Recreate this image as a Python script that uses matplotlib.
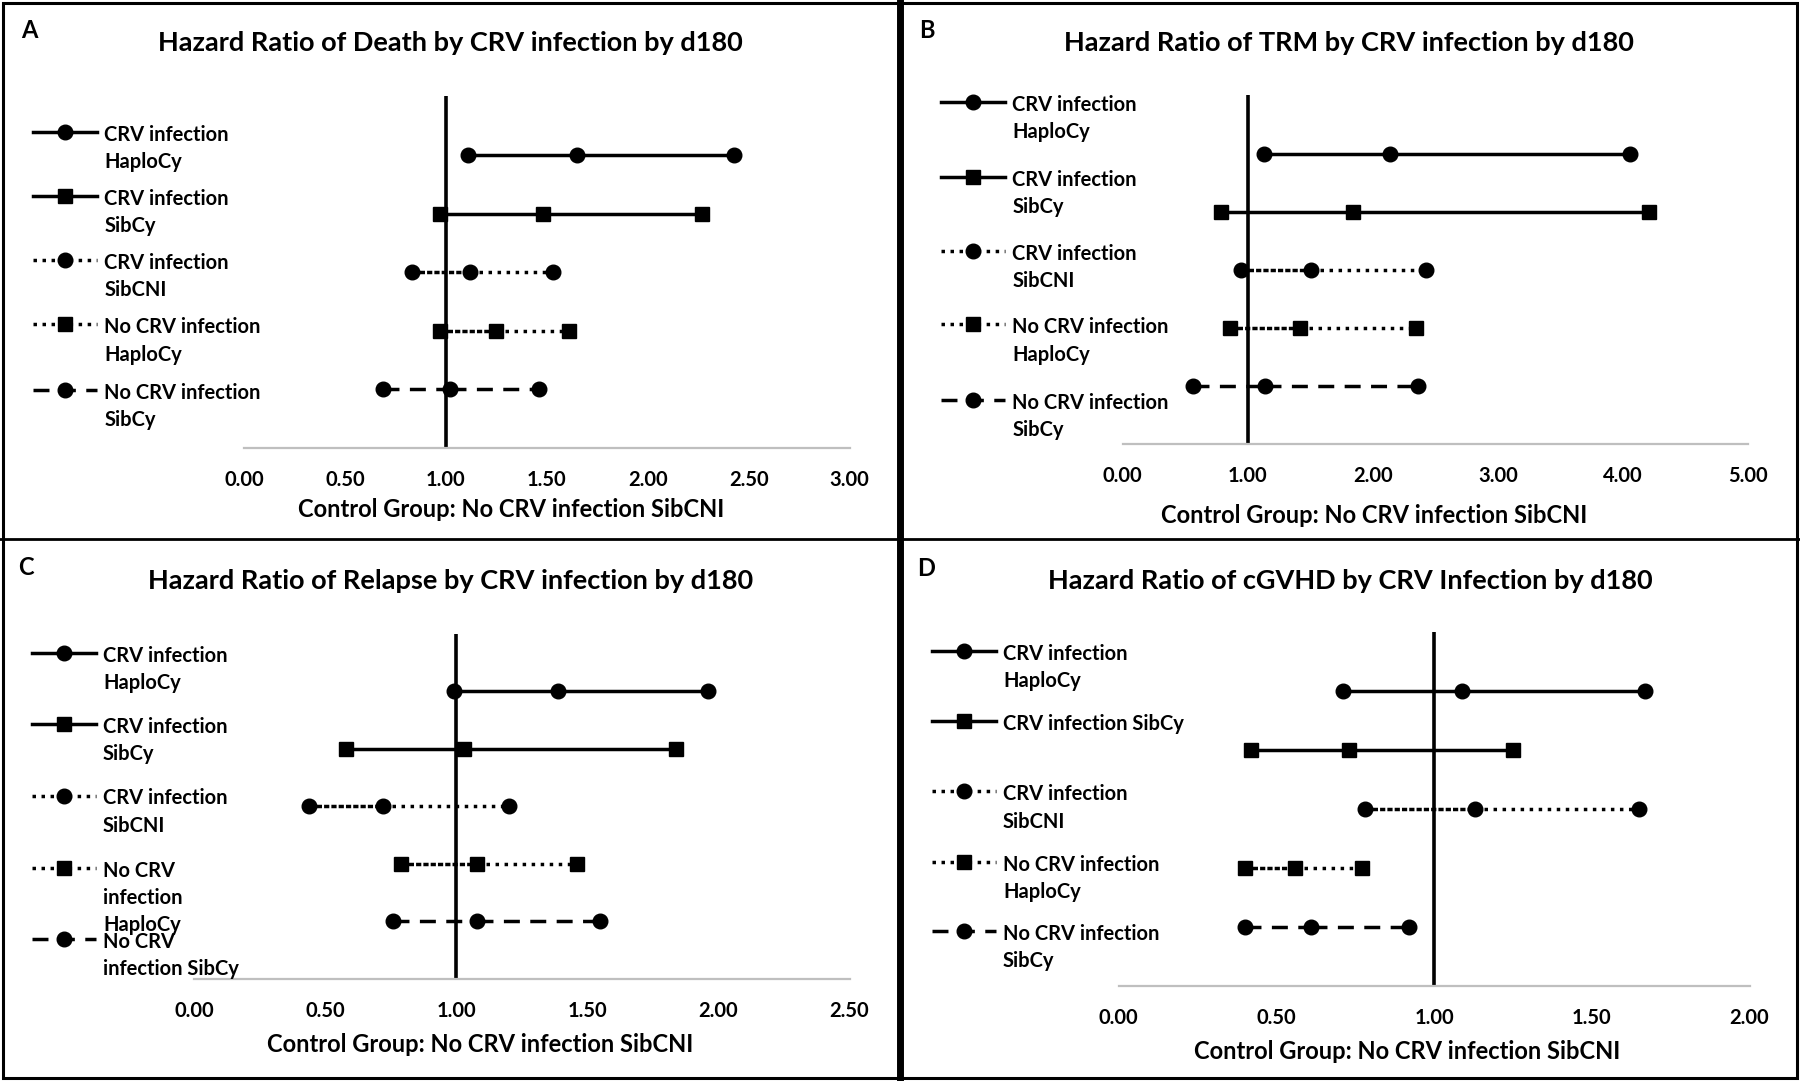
import matplotlib
matplotlib.use("Agg")
import matplotlib.pyplot as plt
from matplotlib.lines import Line2D
from matplotlib.patches import Rectangle

plt.rcParams['font.family'] = ['Lato', 'DejaVu Sans']
plt.rcParams['font.weight'] = 'bold'

W, H = 1800, 1081

# ---- data (HR with 95% CI) ----
labels_std = ["CRV infection\nHaploCy", "CRV infection\nSibCy", "CRV infection\nSibCNI",
              "No CRV infection\nHaploCy", "No CRV infection\nSibCy"]
labels_c = ["CRV infection\nHaploCy", "CRV infection\nSibCy", "CRV infection\nSibCNI",
            "No CRV\ninfection\nHaploCy", "No CRV\ninfection SibCy"]
labels_d = ["CRV infection\nHaploCy", "CRV infection SibCy", "CRV infection\nSibCNI",
            "No CRV infection\nHaploCy", "No CRV infection\nSibCy"]

death_low = [1.11, 0.97, 0.83, 0.97, 0.69]
death_hr = [1.65, 1.48, 1.12, 1.25, 1.02]
death_high = [2.43, 2.27, 1.53, 1.61, 1.46]

trm_low = [1.13, 0.79, 0.95, 0.86, 0.56]
trm_hr = [2.14, 1.84, 1.51, 1.42, 1.14]
trm_high = [4.06, 4.21, 2.43, 2.35, 2.36]

relapse_low = [0.99, 0.58, 0.44, 0.79, 0.76]
relapse_hr = [1.39, 1.03, 0.72, 1.08, 1.08]
relapse_high = [1.96, 1.84, 1.20, 1.46, 1.55]

cgvhd_low = [0.71, 0.42, 0.78, 0.40, 0.40]
cgvhd_hr = [1.09, 0.73, 1.13, 0.56, 0.61]
cgvhd_high = [1.67, 1.25, 1.65, 0.77, 0.92]

xlabel = "Control Group: No CRV infection SibCNI"

# ---- styles ----
markers = ['o', 's', 'o', 's', 'o']
dotted = (0, (1, 1.6))
dashed = (0, (4.6, 3.0))
right_styles = ['-', '-', dotted, dotted, dashed]
left_styles = ['-', '-', (0, (1.5, 0.6)), (0, (1.5, 0.6)), dashed]
LW = 2.5


def fx(px):
    return px / W


def fy(py):
    return 1 - py / H


panels = [
    dict(letter='A', title="Hazard Ratio of Death by CRV infection by d180",
         low=death_low, hr=death_hr, high=death_high, labels=labels_std,
         xmax=3.0, step=0.5, box=(244, 849.5, 96.4, 448),
         title_xy=(450, 43), letter_xy=(29, 30), xlab=(0.441, -0.175),
         leg_x=33, leg_ys=[132.6, 197, 261, 325.4, 390.8]),
    dict(letter='B', title="Hazard Ratio of TRM by CRV infection by d180",
         low=trm_low, hr=trm_hr, high=trm_high, labels=labels_std,
         xmax=5.0, step=1.0, box=(1122.7, 1747.8, 95.4, 444),
         title_xy=(1349, 43), letter_xy=(927, 30), xlab=(0.402, -0.205),
         leg_x=941, leg_ys=[102.6, 178, 251.7, 325.4, 400.5]),
    dict(letter='C', title="Hazard Ratio of Relapse by CRV infection by d180",
         low=relapse_low, hr=relapse_hr, high=relapse_high, labels=labels_c,
         xmax=2.5, step=0.5, box=(194, 849.5, 633.7, 979),
         title_xy=(450.6, 580.6), letter_xy=(26, 567.5), xlab=(0.437, -0.190),
         leg_x=31.6, leg_ys=[653.6, 725, 796.5, 868.9, 940]),
    dict(letter='D', title="Hazard Ratio of cGVHD by CRV Infection by d180",
         low=cgvhd_low, hr=cgvhd_hr, high=cgvhd_high, labels=labels_d,
         xmax=2.0, step=0.5, box=(1118.7, 1749.5, 632, 986),
         title_xy=(1350.6, 580.6), letter_xy=(926, 568), xlab=(0.458, -0.184),
         leg_x=931.6, leg_ys=[651.9, 721.5, 792.4, 862.7, 931.9]),
]

fig = plt.figure(figsize=(18, 10.81), dpi=100)

for p in panels:
    l, r, t, b = p['box']
    ax = fig.add_axes([fx(l), fy(b), (r - l) / W, (b - t) / H])
    n = len(p['hr'])
    proxies = []
    for i in range(n):
        y = n - i
        # left part of the CI (low -> HR) and right part (HR -> high)
        ax.plot([p['low'][i], p['hr'][i]], [y, y], color='black', lw=LW,
                ls=left_styles[i], solid_capstyle='butt', zorder=2)
        ax.plot([p['hr'][i], p['high'][i]], [y, y], color='black', lw=LW,
                ls=right_styles[i], solid_capstyle='butt', zorder=2)
        ax.plot([p['low'][i], p['hr'][i], p['high'][i]], [y, y, y], ls='none',
                marker=markers[i], ms=10.5, color='black', zorder=3)
        proxies.append(Line2D([], [], color='black', lw=LW, ls=right_styles[i],
                              marker=markers[i], ms=10.5))

    ax.axvline(1.0, color='black', lw=2.6, zorder=1)
    ax.set_xlim(0, p['xmax'])
    ax.set_ylim(0, n + 1)
    ticks = [k * p['step'] for k in range(int(round(p['xmax'] / p['step'])) + 1)]
    ax.set_xticks(ticks)
    ax.set_xticklabels([f"{v:.2f}" for v in ticks])
    ax.set_yticks([])
    ax.tick_params(axis='x', length=0, pad=16, labelsize=14.5)
    for s in ['top', 'left', 'right']:
        ax.spines[s].set_visible(False)
    ax.spines['bottom'].set_color('#BFBFBF')
    ax.spines['bottom'].set_linewidth(1.6)
    ax.patch.set_alpha(0)

    ax.set_xlabel(xlabel, fontsize=17, fontweight='bold')
    ax.xaxis.set_label_coords(*p['xlab'])
    ax.xaxis.label.set_va('center')

    fig.text(fx(p['title_xy'][0]), fy(p['title_xy'][1]), p['title'],
             ha='center', va='center', fontsize=19.5, fontweight='bold')
    fig.text(fx(p['letter_xy'][0]), fy(p['letter_xy'][1]), p['letter'],
             ha='center', va='center', fontsize=17, fontweight='bold')

    # one legend per entry so each sits beside its own row, like the original
    for i in range(n):
        leg = fig.legend(handles=[proxies[i]], labels=[p['labels'][i]],
                         loc='upper left',
                         bbox_to_anchor=(fx(p['leg_x']), fy(p['leg_ys'][i] - 8)),
                         bbox_transform=fig.transFigure, frameon=False,
                         borderpad=0, borderaxespad=0, handlelength=3.2,
                         handletextpad=0.35, prop={'size': 14.5, 'weight': 'bold'})
        for txt in leg.get_texts():
            txt.set_linespacing(1.45)
        for col in leg._legend_handle_box.get_children():
            for row in col.get_children():
                row.align = 'top'

# panel frames
fig.add_artist(Rectangle((fx(3), fy(1078)), 1794 / W, 1075 / H, transform=fig.transFigure,
                         fill=False, lw=2.2, ec='black'))
fig.add_artist(Line2D([fx(899.5), fx(899.5)], [0, 1], transform=fig.transFigure,
                      color='black', lw=5))
fig.add_artist(Line2D([0, 1], [fy(539), fy(539)], transform=fig.transFigure,
                      color='black', lw=2))

fig.savefig("out.png", dpi=100)
